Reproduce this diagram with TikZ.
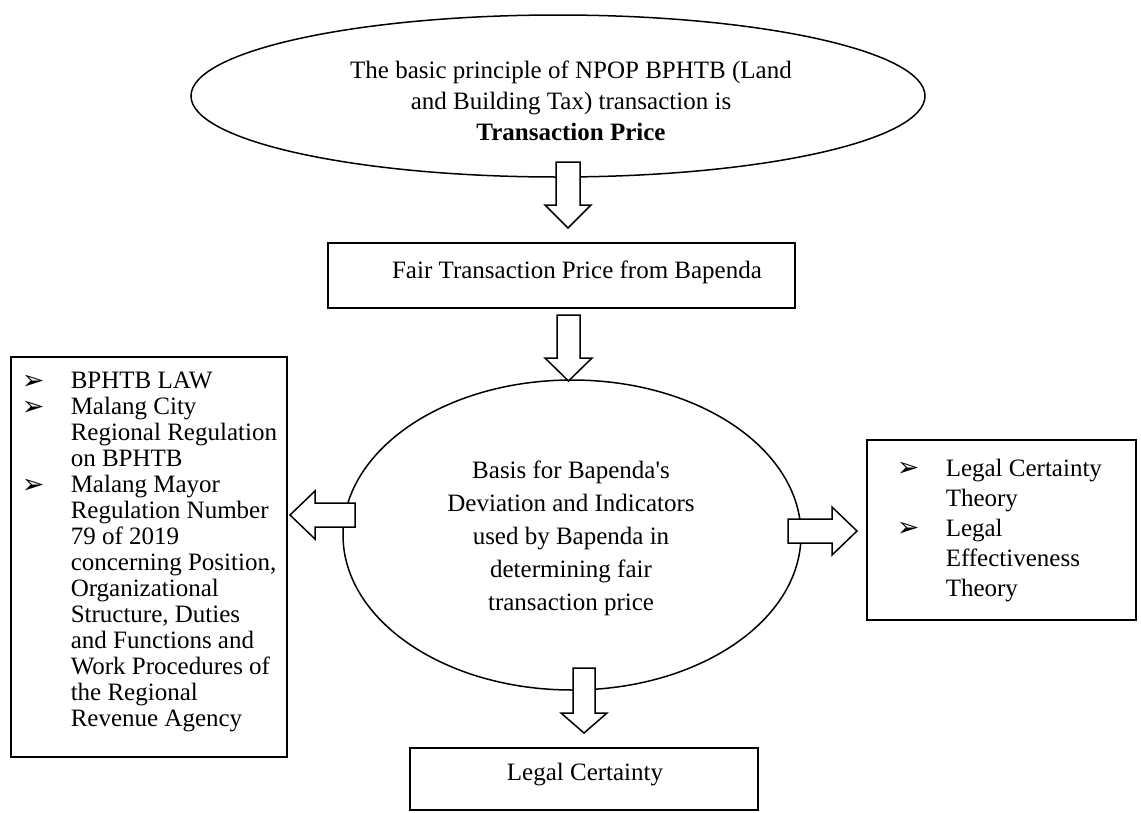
\documentclass[tikz,border=0pt]{standalone}
\usepackage{fontspec}
\setmainfont{Liberation Serif}
\newfontfamily\bulletfont{DejaVu Sans}
\usetikzlibrary{shapes.geometric}
\begin{document}
\begin{tikzpicture}[x=1pt,y=-1pt,
  line width=1.5pt,
  oval/.style={draw, ellipse, inner sep=0pt},
  box/.style={draw, rectangle, inner sep=0pt},
  blockarrow/.style={draw, fill=white, line width=1.5pt, line join=miter},
  txt/.style={inner sep=0pt, align=center, font=\fontsize{25}{33}\selectfont},
  bul/.style={inner sep=0pt, anchor=base west, font=\bulletfont\fontsize{27}{27}\selectfont}]
\useasboundingbox (0,0) rectangle (1141,812);
% ellipses and boxes
\node[oval, minimum width=734pt, minimum height=162pt] (top) at (558,96) {};
\node[txt, font=\fontsize{25}{31}\selectfont] (toptext) at (571,101)
  {The basic principle of NPOP BPHTB (Land\\ and Building Tax) transaction is\\ \textbf{Transaction Price}};
\node[box, minimum width=467pt, minimum height=65pt] (fair) at (561.5,275.5) {};
\node[txt] (fairtext) at (577,272) {Fair Transaction Price from Bapenda};
\node[oval, minimum width=458pt, minimum height=310pt] (basis) at (572,535) {};
\node[txt] (basistext) at (571,538)
  {Basis for Bapenda\textquotesingle s\\ Deviation and Indicators\\ used by Bapenda in\\ determining fair\\ transaction price};
\node[box, minimum width=276pt, minimum height=400pt] (law) at (149,557) {};
\node[inner sep=0pt, anchor=north west, align=left, font=\fontsize{25}{26}\selectfont] (lawtext) at (70,371)
  {BPHTB LAW\\ Malang City\\ Regional Regulation\\ on BPHTB\\ Malang Mayor\\ Regulation Number\\ 79 of 2019\\ concerning Position,\\ Organizational\\ Structure, Duties\\ and Functions and\\ Work Procedures of\\ the Regional\\ Revenue Agency};
\node[bul] (lb1) at (21,389) {➢};
\node[bul] (lb2) at (21,415) {➢};
\node[bul] (lb3) at (21,493) {➢};
\node[box, minimum width=269pt, minimum height=180pt] (theory) at (1001.5,530) {};
\node[inner sep=0pt, anchor=north west, align=left, font=\fontsize{25}{30}\selectfont] (theorytext) at (945,458)
  {Legal Certainty\\ Theory\\ Legal\\ Effectiveness\\ Theory};
\node[bul] (rb1) at (896,476) {➢};
\node[bul] (rb2) at (896,536) {➢};
\node[box, minimum width=348pt, minimum height=62pt] (certainty) at (584,779) {};
\node[txt] (certaintytext) at (585,775) {Legal Certainty};
% block arrows
\draw[blockarrow] (556,162) -- (580,162) -- (580,205) -- (591,205) -- (568,228) -- (545,205) -- (556,205) -- cycle;
\draw[blockarrow] (557,315) -- (580,315) -- (580,358) -- (592,358) -- (568.5,381) -- (545,358) -- (557,358) -- cycle;
\draw[blockarrow] (573,668) -- (595,668) -- (595,713) -- (607,713) -- (584,733) -- (561,713) -- (573,713) -- cycle;
\draw[blockarrow] (355,503) -- (355,527) -- (315,527) -- (315,539) -- (290,515) -- (315,491) -- (315,503) -- cycle;
\draw[blockarrow] (788,519) -- (788,543) -- (832,543) -- (832,555) -- (857,531) -- (832,507) -- (832,519) -- cycle;
\end{tikzpicture}
\end{document}
